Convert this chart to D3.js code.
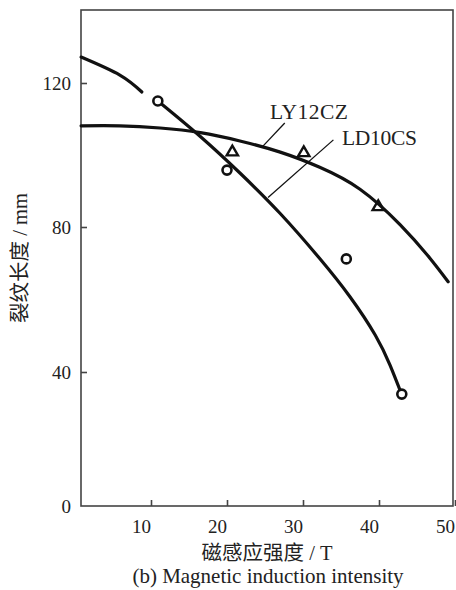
<!DOCTYPE html>
<html>
<head>
<meta charset="utf-8">
<script src="https://cdn.jsdelivr.net/npm/d3@7"></script>
<style>
  html, body { margin: 0; padding: 0; background: #fff; }
  svg { display: block; }
  text { font-family: "Liberation Serif", "Noto Sans CJK SC", serif; fill: #222; }
</style>
</head>
<body>
<svg id="chart" width="456" height="590"></svg>
<script>
// Crack length (mm) versus magnetic induction intensity (T)
const xTicks = [10, 20, 30, 40, 50];
const yTicks = [0, 40, 80, 120];

// LD10CS fitted curve (drawn in two pieces, broken just before the first marker)
const ld10csCurveA = [[0.8, 127.2], [5.9, 122.2], [8.8, 117.5]];
const ld10csCurveB = [[10.9, 115.0], [16.45, 105.2], [21.7, 95.0], [27.0, 83.75], [32.2, 71.3],
                      [36.2, 60.7], [39.5, 50.2], [41.45, 41.9], [43.0, 33.2]];
const ld10csPoints = [[10.9, 115.0], [20.0, 95.8], [35.7, 71.2], [43.0, 33.4]];

// LY12CZ fitted curve and measured points
const ly12czCurve = [[0.8, 108.1], [5.9, 108.1], [11.2, 107.5], [16.5, 106.2], [21.7, 103.9],
                     [27.0, 100.8], [32.2, 96.6], [37.5, 90.5], [42.8, 80.6], [46.7, 71.4],
                     [49.1, 64.9]];
const ly12czPoints = [[20.7, 100.8], [30.1, 100.6], [39.9, 85.6]];

const seriesLabels = ["LY12CZ", "LD10CS"];
const xTitle = "磁感应强度 / T";
const yTitle = "裂纹长度 / mm";
const caption = "(b) Magnetic induction intensity";

const svg = d3.select("#chart");
const frame = { left: 81, right: 453, top: 10, bottom: 506 };

const x = d3.scaleLinear().domain([0, 50]).range([75, 455]);
// the printed axis places 0 slightly higher than a strict linear spacing
const y = d3.scaleLinear().domain([0, 40, 80, 120, 140]).range([frame.bottom, 372, 227, 83, 11]);

// frame
svg.append("rect")
  .attr("x", frame.left).attr("y", frame.top)
  .attr("width", frame.right - frame.left).attr("height", frame.bottom - frame.top)
  .attr("fill", "none").attr("stroke", "#444").attr("stroke-width", 1.6);

// x axis with inward ticks
const gx = svg.append("g").attr("transform", `translate(0,${frame.bottom})`)
  .call(d3.axisBottom(x).tickValues(xTicks).tickSize(-6).tickPadding(14).tickFormat(d3.format("d")));
gx.select(".domain").remove();
gx.selectAll(".tick line").attr("stroke", "#444").attr("stroke-width", 1.6);
gx.selectAll(".tick text").attr("font-size", 19).attr("dx", -10)
  .attr("font-family", "Liberation Serif").attr("fill", "#222");

// y axis with inward ticks
const gy = svg.append("g").attr("transform", `translate(${frame.left},0)`)
  .call(d3.axisLeft(y).tickValues(yTicks).tickSize(-6).tickPadding(10).tickFormat(d3.format("d")));
gy.select(".domain").remove();
gy.selectAll(".tick line").attr("stroke", "#444").attr("stroke-width", 1.6)
  .attr("display", d => d === 0 ? "none" : null);
gy.selectAll(".tick text").attr("font-size", 19)
  .attr("font-family", "Liberation Serif").attr("fill", "#222");

// curves (natural cubic splines through the fitted points)
const line = d3.line().x(d => x(d[0])).y(d => y(d[1])).curve(d3.curveNatural);
[ld10csCurveA, ld10csCurveB, ly12czCurve].forEach(c => {
  svg.append("path").datum(c).attr("d", line)
    .attr("fill", "none").attr("stroke", "#111").attr("stroke-width", 3.2)
    .attr("stroke-linecap", "round").attr("stroke-linejoin", "round");
});

// markers
svg.append("g").selectAll("circle").data(ld10csPoints).join("circle")
  .attr("cx", d => x(d[0])).attr("cy", d => y(d[1])).attr("r", 4.5)
  .attr("fill", "#fff").attr("stroke", "#111").attr("stroke-width", 2.6);

const tri = d3.symbol().type(d3.symbolTriangle).size(55);
svg.append("g").selectAll("path").data(ly12czPoints).join("path")
  .attr("transform", d => `translate(${x(d[0])},${y(d[1])})`)
  .attr("d", tri)
  .attr("fill", "none").attr("stroke", "#111").attr("stroke-width", 2.4);

// leader lines and labels
const leaders = [
  { from: [24.7, 102.4], to: [27.6, 108.9], label: seriesLabels[0], lx: 270, ly: 119 },
  { from: [25.4, 88.2], to: [34.0, 104.2], label: seriesLabels[1], lx: 342, ly: 145 }
];
leaders.forEach(l => {
  svg.append("line")
    .attr("x1", x(l.from[0])).attr("y1", y(l.from[1]))
    .attr("x2", x(l.to[0])).attr("y2", y(l.to[1]))
    .attr("stroke", "#111").attr("stroke-width", 1.3);
  svg.append("text").attr("x", l.lx).attr("y", l.ly)
    .attr("font-size", 21.5).attr("textLength", l.label === "LY12CZ" ? 78 : 75)
    .text(l.label);
});

// axis titles and caption
svg.append("text")
  .attr("transform", "translate(27,258) rotate(-90)")
  .attr("text-anchor", "middle").attr("font-size", 20.5).attr("fill", "#333").text(yTitle);
svg.append("text").attr("x", 267).attr("y", 560)
  .attr("text-anchor", "middle").attr("font-size", 20.5).attr("fill", "#333").text(xTitle);
svg.append("text").attr("x", 268).attr("y", 583)
  .attr("text-anchor", "middle").attr("font-size", 21).text(caption);
</script>
</body>
</html>
